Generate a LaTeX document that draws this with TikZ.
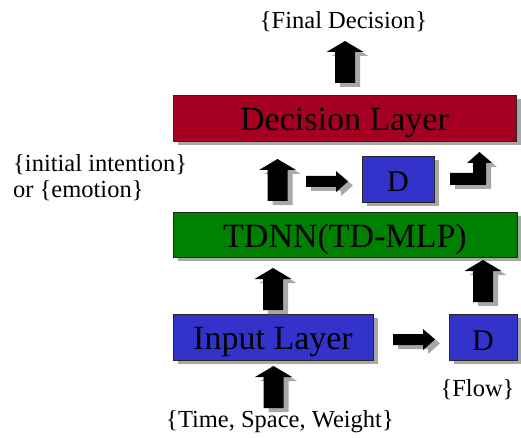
\documentclass[tikz,border=0pt]{standalone}
\usepackage{fontspec}
\setmainfont{Liberation Serif}
\newfontfamily\timesfont{Liberation Serif}
\usetikzlibrary{shadows}

\definecolor{declayer}{HTML}{A50021}
\definecolor{tdnngreen}{HTML}{008000}
\definecolor{blockblue}{HTML}{3333CC}
\definecolor{shade}{gray}{0.66}

\tikzset{
  softshadow/.style={drop shadow={shadow xshift=5pt, shadow yshift=-4pt, fill=shade, opacity=1}},
  layerbox/.style={rectangle, draw=black!85, line width=0.8pt, inner sep=0pt, softshadow,
    font=\timesfont\fontsize{34}{40}\selectfont, text height=25pt, text depth=0pt},
  delaybox/.style={layerbox, font=\timesfont\fontsize{30}{36}\selectfont, text height=26pt},
  tag/.style={inner sep=0pt, font=\timesfont\fontsize{24.5}{25}\selectfont},
  blockarrow/.style={fill=black, softshadow},
  % vertical block arrow, base centre at the pic origin (y grows downwards)
  uparrow/.pic={
    \path[blockarrow] (-10,0) -- (-10,-31) -- (-18.5,-31) -- (0,-42)
      -- (18.5,-31) -- (10,-31) -- (10,0) -- cycle;
  },
  % horizontal block arrow, tail centre at the pic origin
  rightarrow/.pic={
    \path[blockarrow] (0,-5.5) -- (30,-5.5) -- (30,-10.5) -- (42,0)
      -- (30,10.5) -- (30,5.5) -- (0,5.5) -- cycle;
  }
}

\begin{document}
\begin{tikzpicture}[x=1pt, y=-1pt]
  \useasboundingbox (0,0) rectangle (521,438);

  % layers
  \node[layerbox, fill=declayer, minimum width=343pt, minimum height=46pt] (dec) at (344.5,118) {Decision Layer};
  \node[layerbox, fill=tdnngreen, minimum width=344pt, minimum height=45pt] (tdnn) at (345,234.5) {TDNN(TD-MLP)};
  \node[layerbox, fill=blockblue, minimum width=200pt, minimum height=46pt] (inp) at (273,337) {Input Layer};
  \node[delaybox, fill=blockblue, minimum width=72pt, minimum height=46pt] (dmid) at (398,179) {D};
  \node[delaybox, fill=blockblue, minimum width=68pt, minimum height=46pt] (dlow) at (483,337) {D};

  % labels (a multi-line node's base is its last line)
  \node[tag, anchor=base] (final) at (343.5,28.5) {\{Final Decision\}};
  \node[tag, anchor=base west, align=left] (intent) at (13,197) {\{initial intention\}\\or \{emotion\}};
  \node[tag, anchor=base] (tsw) at (280,427) {\{Time, Space, Weight\}};
  \node[tag, anchor=base] (flow) at (477.5,396) {\{Flow\}};

  % block arrows
  \pic at (345,83) {uparrow};
  \pic at (277.5,201) {uparrow};
  \pic at (273,310) {uparrow};
  \pic at (483,302) {uparrow};
  \pic at (273.5,408) {uparrow};
  \pic at (306,181.5) {rightarrow};
  \pic at (393,339.5) {rightarrow};

  % bent arrow leaving the upper delay unit
  \path[blockarrow] (450,173) -- (473,173) -- (473,163) -- (467,163) -- (479.5,152)
    -- (492,163) -- (486,163) -- (486,185) -- (450,185) -- cycle;
\end{tikzpicture}
\end{document}
